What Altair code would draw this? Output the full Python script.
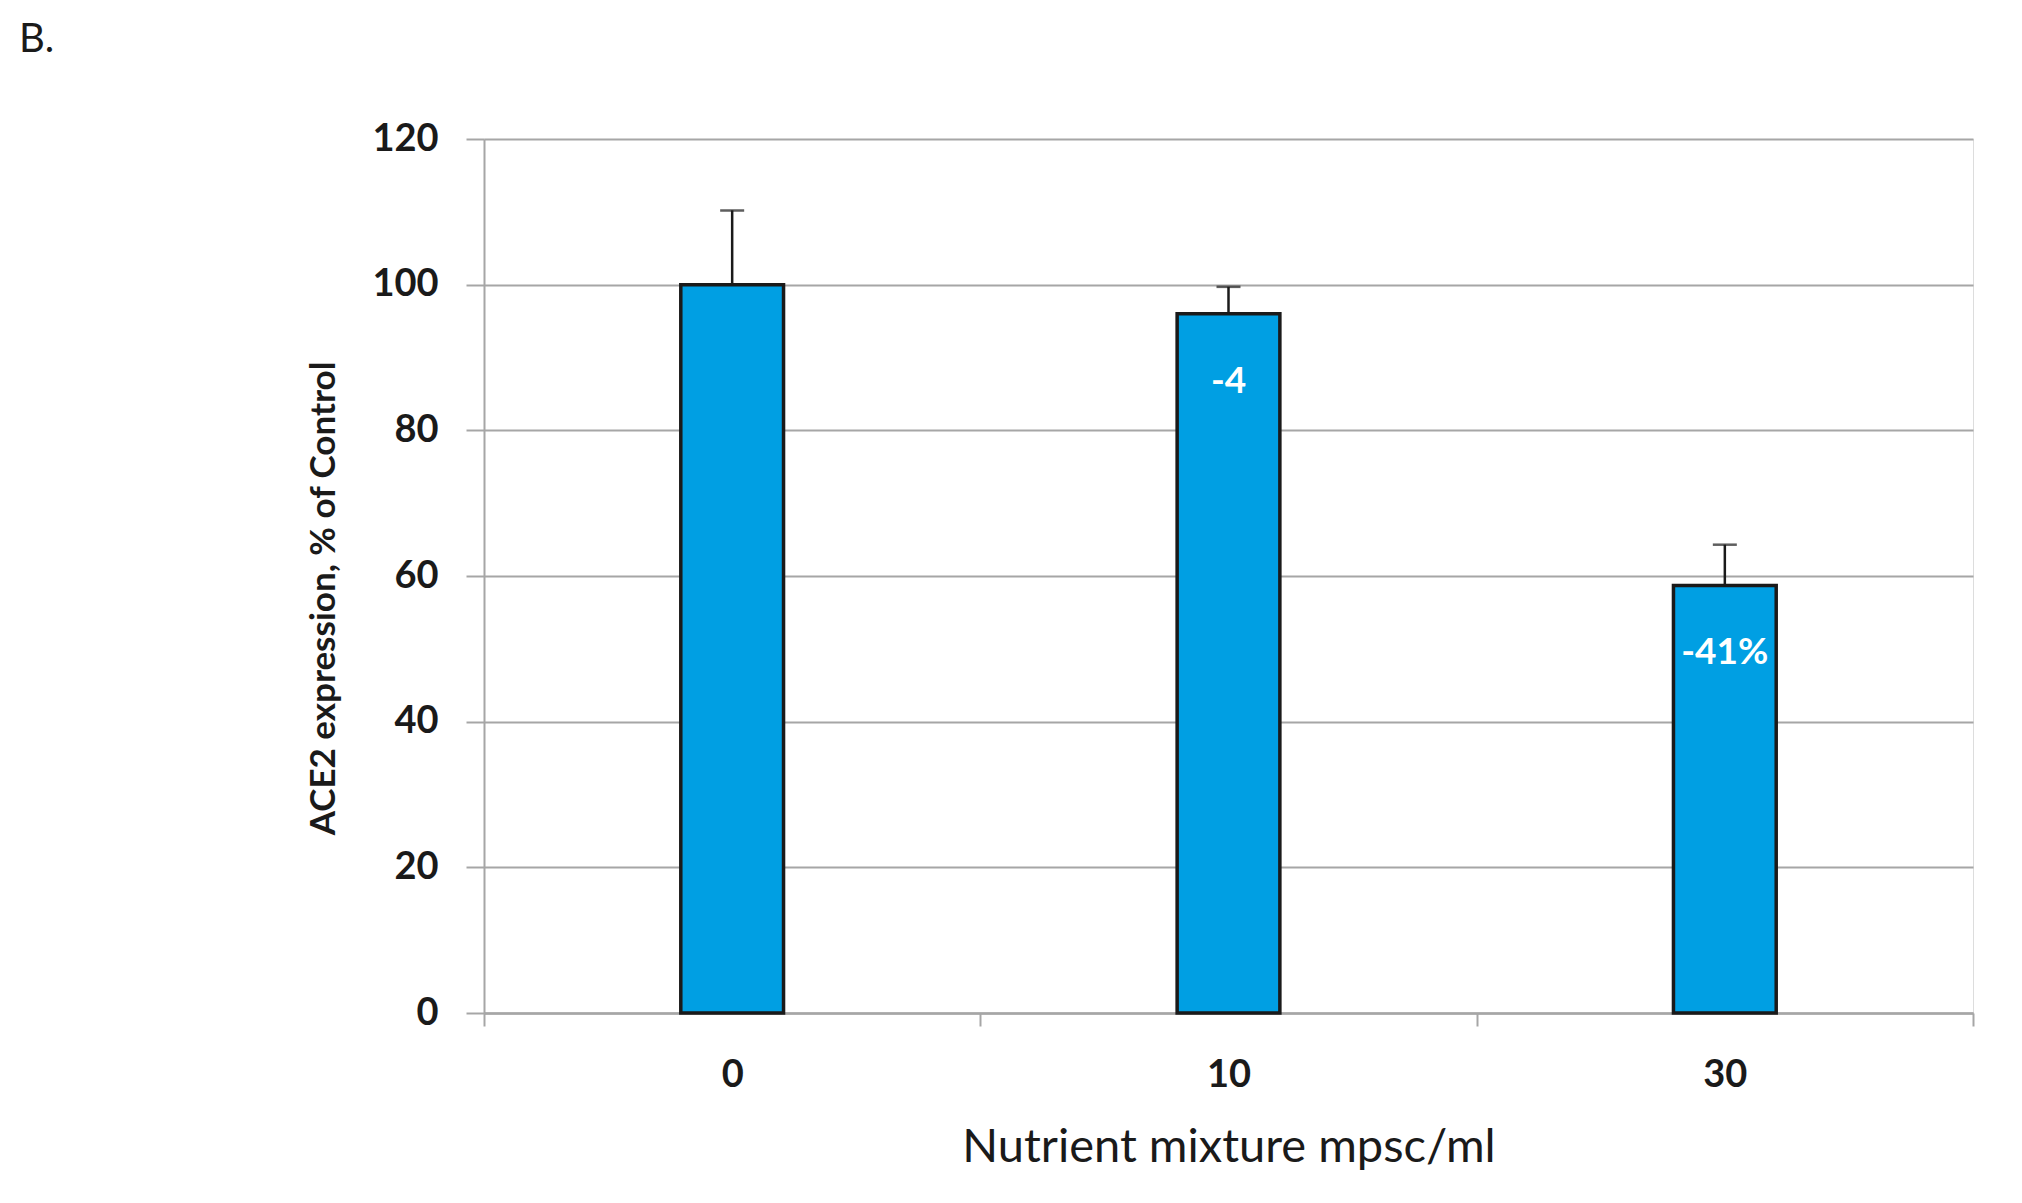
import altair as alt
import pandas as pd

categories = ["0", "10", "30"]
values = [100, 96, 58.7]
err_top = [110.2, 99.7, 64.3]
labels = ["", "-4", "-41%"]

df = pd.DataFrame({"cat": categories, "val": values, "err": err_top, "lab": labels})

FONT = "Lato"
W, H = 1489, 874

x_enc = alt.X("cat:N", sort=categories, title="Nutrient mixture mpsc/ml",
              scale=alt.Scale(paddingInner=0, paddingOuter=0),
              axis=alt.Axis(labelAngle=0, tickBand="extent", labelFont=FONT, labelFontSize=38,
                            labelFontWeight="bold", labelColor="#1a1a1a", labelPadding=30,
                            tickSize=13, tickColor="#a6a6a6", tickWidth=2,
                            domainColor="#a6a6a6", domainWidth=2.5,
                            titleFont=FONT, titleFontSize=47, titleFontWeight="normal",
                            titleColor="#1a1a1a", titlePadding=30))

y_scale = alt.Scale(domain=[0, 120])

base = alt.Chart(df)

bars = base.mark_bar(color="#009FE3", stroke="#1a1a1a", strokeWidth=3.5,
                     width=alt.RelativeBandSize(0.207)).encode(
    x=x_enc,
    y=alt.Y("val:Q", scale=y_scale, title="ACE2 expression, % of Control",
            axis=alt.Axis(values=[0, 20, 40, 60, 80, 100, 120], grid=True,
                          gridColor="#a6a6a6", gridWidth=2,
                          domainColor="#a6a6a6", domainWidth=2,
                          tickColor="#a6a6a6", tickWidth=2, tickSize=18,
                          labelFont=FONT, labelFontSize=38, labelFontWeight="bold",
                          labelColor="#1a1a1a", labelPadding=28,
                          titleFont=FONT, titleFontSize=35, titleFontWeight="bold",
                          titleColor="#1a1a1a", titlePadding=30, titleY=459)),
)

rule = base.mark_rule(color="#1a1a1a", strokeWidth=2.5).encode(
    x=alt.X("cat:N", sort=categories),
    y=alt.Y("val:Q", scale=y_scale),
    y2="err:Q",
)

cap = base.mark_tick(color="#1a1a1a", thickness=2.5, size=24, orient="horizontal").encode(
    x=alt.X("cat:N", sort=categories),
    y=alt.Y("err:Q", scale=y_scale),
)

text = base.mark_text(color="white", font=FONT, fontSize=37, fontWeight="bold",
                      baseline="middle", dy=68).encode(
    x=alt.X("cat:N", sort=categories),
    y=alt.Y("val:Q", scale=y_scale),
    text="lab:N",
)

panel = alt.Chart(pd.DataFrame({"t": ["B."]})).mark_text(
    font=FONT, fontSize=40, align="left", baseline="middle", color="#1a1a1a").encode(
    x=alt.value(-465), y=alt.value(-99), text="t:N")

chart = alt.layer(bars, rule, cap, text, panel).properties(
    width=W, height=H,
    autosize=alt.AutoSizeParams(type="none"),
    padding={"left": 476, "top": 131, "right": 41, "bottom": 190},
).configure_view(stroke=None).configure(background="white")

chart.save("out.html", embed_options={"renderer": "svg", "actions": False})
